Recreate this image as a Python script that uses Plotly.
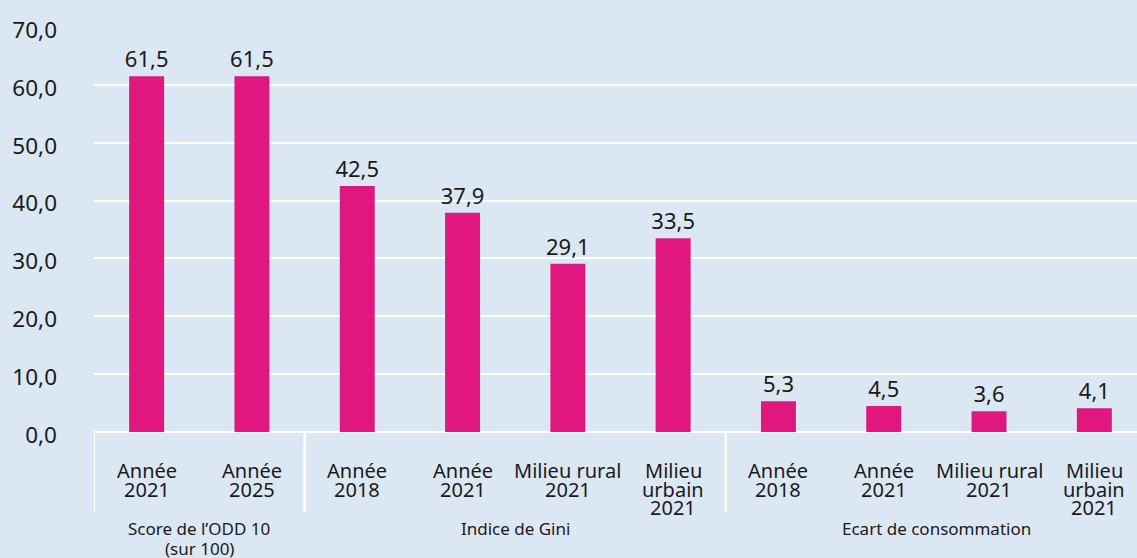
import plotly.graph_objects as go

groups = ["Score de l’ODD 10<br>(sur 100)"] * 2 + ["Indice de Gini"] * 4 + ["Ecart de consommation"] * 4
labels = ["Année<br>2021", "Année<br>2025",
          "Année<br>2018", "Année<br>2021", "Milieu rural<br>2021", "Milieu<br>urbain<br>2021",
          "Année<br>2018", "Année<br>2021", "Milieu rural<br>2021", "Milieu<br>urbain<br>2021"]
values = [61.5, 61.5, 42.5, 37.9, 29.1, 33.5, 5.3, 4.5, 3.6, 4.1]
yticks = [0, 10, 20, 30, 40, 50, 60, 70]

BG = "#dbe7f3"
BAR = "#e0177f"
INK = "#1a1a1a"
FONT = "Noto Sans"

xpos = list(range(len(values)))

fig = go.Figure(go.Bar(
    x=xpos, y=values,
    marker=dict(color=BAR, line=dict(width=0)),
    text=[f"{v:.1f}".replace(".", ",") for v in values],
    textposition="outside", cliponaxis=False, constraintext="none",
    textfont=dict(family=FONT, size=22, color=INK),
))

annotations = []
shapes = []
# first-level tick labels, one annotation per line for tight leading
for i, lab in enumerate(labels):
    for k, line in enumerate(lab.split("<br>")):
        annotations.append(dict(
            x=xpos[i], xref="x", y=0, yref="paper", yanchor="middle",
            yshift=-38.5 - 18.7 * k, text=line, showarrow=False,
            font=dict(family=FONT, size=20, color=INK)))

# group labels and dividers
bounds = []
start = 0
for i in range(1, len(groups) + 1):
    if i == len(groups) or groups[i] != groups[start]:
        bounds.append((start, i - 1, groups[start]))
        start = i
for a, b, g in bounds:
    for k, line in enumerate(g.split("<br>")):
        annotations.append(dict(
            x=(xpos[a] + xpos[b]) / 2, xref="x", y=0, yref="paper", yanchor="middle",
            yshift=-96 - 20.5 * k, text=line, showarrow=False,
            font=dict(family=FONT, size=17, color=INK)))
    for edge in (xpos[a] - 0.5, xpos[b] + 0.5):
        shapes.append(dict(type="line", xref="x", yref="paper",
                           x0=edge, x1=edge, y0=0, y1=-80 / 405,
                           line=dict(color="white", width=2)))

fig.update_layout(
    width=1137, height=558,
    paper_bgcolor=BG, plot_bgcolor=BG,
    margin=dict(l=94, r=0, t=27, b=126),
    bargap=0.668, separators=", ",
    font=dict(family=FONT, color=INK),
    showlegend=False,
    annotations=annotations, shapes=shapes,
)
fig.update_yaxes(range=[0, 70], tickvals=yticks, tickformat=".1f",
                 showgrid=True, gridcolor="white", gridwidth=2,
                 zeroline=True, zerolinecolor="white", zerolinewidth=2,
                 tickfont=dict(size=22.5, color=INK), ticklabelstandoff=36,
                 ticklabelshift=3, showline=False)
fig.update_xaxes(range=[-0.5, 9.405], showticklabels=False,
                 showline=False, showgrid=False, zeroline=False, ticks="")
fig.write_html("out.html", config={"displayModeBar": False},
               post_script="document.body.style.margin='0';")
